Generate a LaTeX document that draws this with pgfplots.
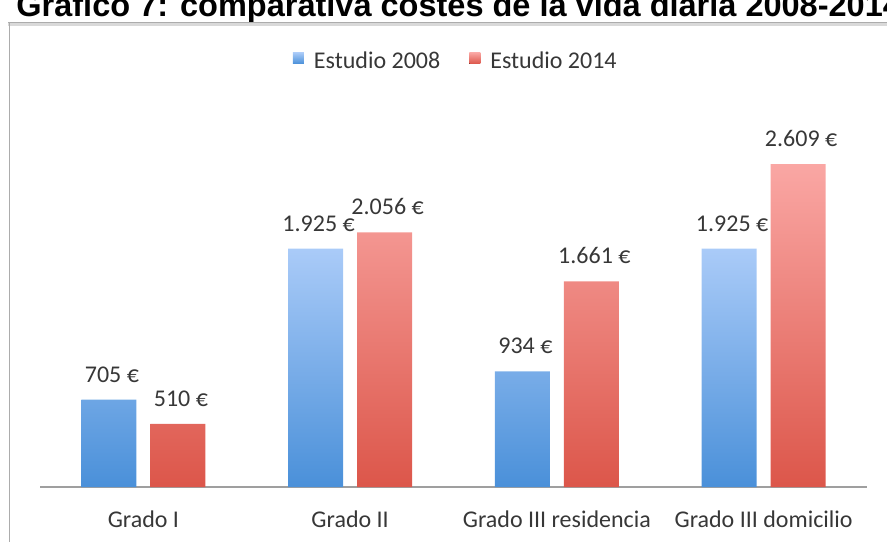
\documentclass[border=0pt]{standalone}
\usepackage{fontspec}
\setmainfont{Carlito}
\newfontfamily\titlefont{Liberation Sans}
\usepackage{pgfplots}
\pgfplotsset{compat=1.18}
\definecolor{bluTop}{RGB}{170,203,248}
\definecolor{bluBot}{RGB}{74,144,217}
\definecolor{redTop}{RGB}{250,167,164}
\definecolor{redBot}{RGB}{220,86,74}
\definecolor{txt}{RGB}{55,55,55}
\begin{document}
\begin{tikzpicture}
\useasboundingbox (0,0) rectangle (443.5pt,-270.5pt);
% title, cut by the page edge as in the source
\node[anchor=base west, inner sep=0pt, font=\titlefont\bfseries\fontsize{16.25}{18}\selectfont]
  at (8pt,-8pt) {Gráfico 7: comparativa costes de la vida diaria 2008-2014};
% chart frame
\draw[gray!30, line width=1.6pt] (4pt,-12.2pt) -- (460pt,-12.2pt);
\draw[gray!65, line width=0.5pt] (4pt,-11.4pt) -- (460pt,-11.4pt);
\draw[gray!65, line width=0.6pt] (4.6pt,-11.4pt) -- (4.6pt,-280pt);
\begin{axis}[
  at={(20pt,-243.5pt)}, anchor=south west,
  scale only axis, width=413.5pt, height=185.7pt,
  xmin=-0.5, xmax=3.5, ymin=0, ymax=3000,
  axis y line=none, axis x line*=bottom,
  axis line style={gray!75, line width=0.6pt, -},
  xtick={0,1,2,3},
  xticklabels={Grado I, Grado II, Grado III residencia, Grado III domicilio},
  major tick length=0pt,
  xticklabel style={anchor=base, yshift=-20pt, font=\fontsize{12}{14}\selectfont, text=txt},
  ybar, bar width=27.5pt, clip=false,
  nodes near coords, point meta=explicit symbolic,
  every node near coord/.append style={inner sep=0pt, yshift=8.5pt, xshift=1.5pt,
    font=\fontsize{12}{14}\selectfont, text=txt},
  legend columns=2,
  legend style={at={(0.5040,1.145)}, anchor=center, draw=none, fill=none,
    font=\fontsize{12}{14}\selectfont, text=txt,
    /tikz/every even column/.append style={column sep=12.5pt}},
  legend image code/.code={\fill[#1] (0pt,-1.0pt) rectangle (5.5pt,4.6pt);
    \path (0pt,0pt) -- (8.5pt,0pt);},
]
\addplot[draw=none, top color=bluTop, bottom color=bluBot, bar shift=-17.25pt]
  coordinates {(0,705) [705 €] (1,1925) [1.925 €] (2,934) [934 €] (3,1925) [1.925 €]};
\addplot[draw=none, top color=redTop, bottom color=redBot, bar shift=17.25pt]
  coordinates {(0,510) [510 €] (1,2056) [2.056 €] (2,1661) [1.661 €] (3,2609) [2.609 €]};
\legend{Estudio 2008, Estudio 2014}
\end{axis}
\end{tikzpicture}
\end{document}
